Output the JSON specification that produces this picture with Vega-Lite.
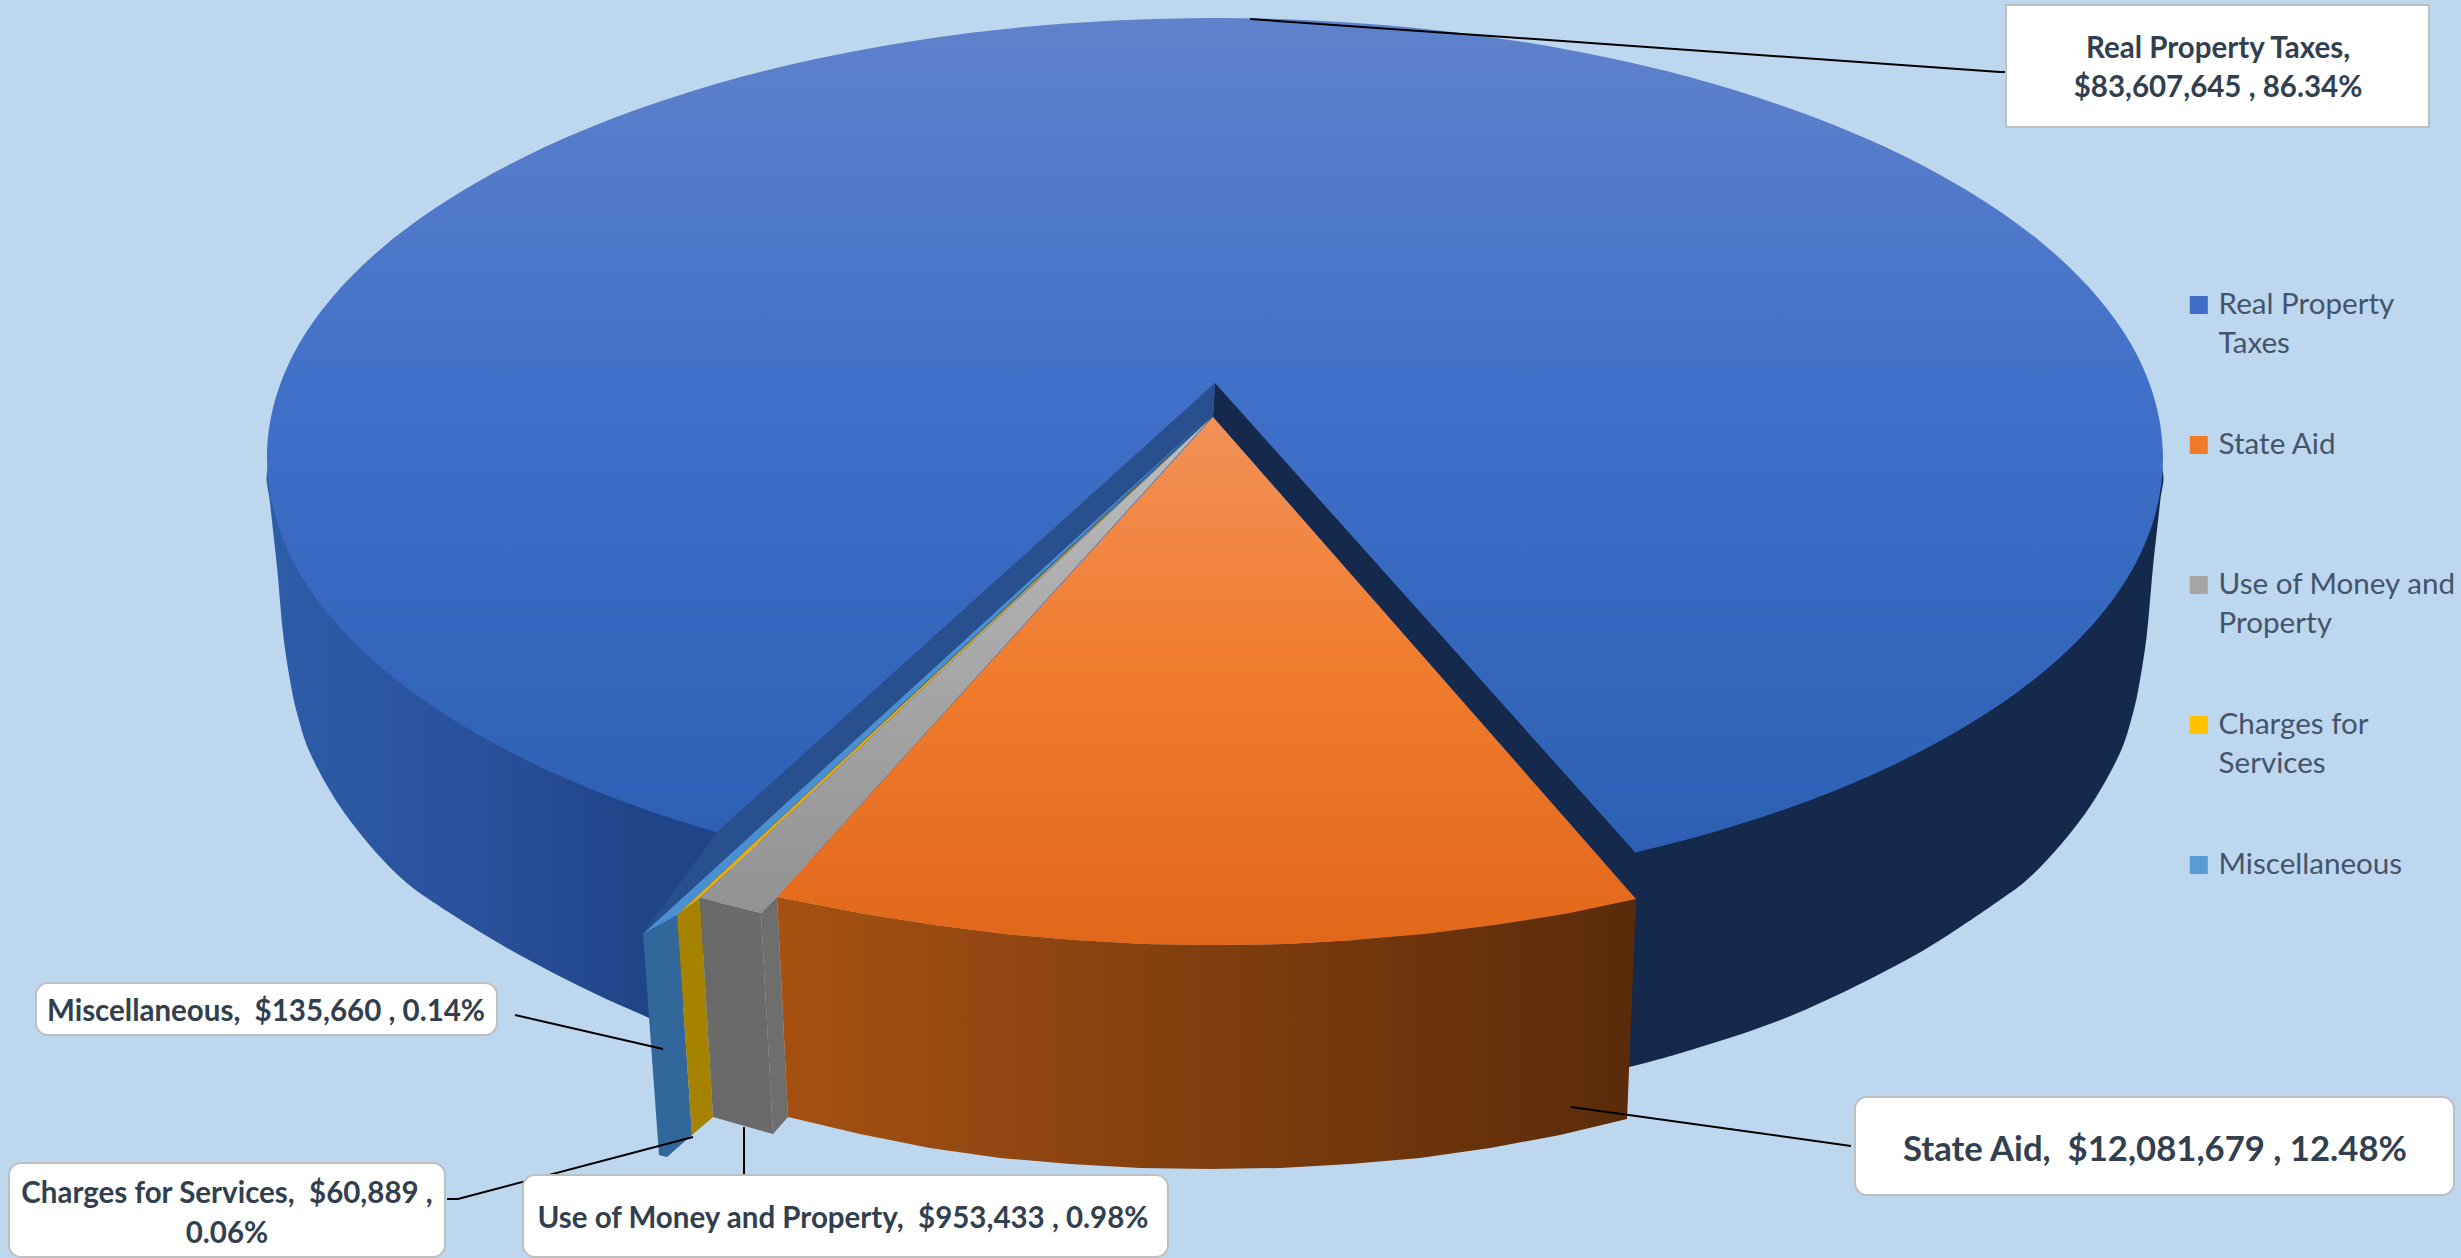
{
  "$schema": "https://vega.github.io/schema/vega-lite/v6.json",
  "width": 2461,
  "height": 1258,
  "padding": 0,
  "autosize": {"type": "fit", "contains": "padding"},
  "background": "#BDD7EE",
  "config": {"view": {"stroke": null}},
  "datasets": {
    "faces": [
      {"slice":"Real Property Taxes","face":"top","x":2163,"y":458},{"slice":"Real Property Taxes","face":"top","x":2131,"y":344},{"slice":"Real Property Taxes","face":"top","x":2036,"y":238},{"slice":"Real Property Taxes","face":"top","x":1885,"y":147},{"slice":"Real Property Taxes","face":"top","x":1689,"y":77},{"slice":"Real Property Taxes","face":"top","x":1460,"y":33},{"slice":"Real Property Taxes","face":"top","x":1215,"y":18},{"slice":"Real Property Taxes","face":"top","x":970,"y":33},{"slice":"Real Property Taxes","face":"top","x":741,"y":77},{"slice":"Real Property Taxes","face":"top","x":545,"y":147},{"slice":"Real Property Taxes","face":"top","x":394,"y":238},{"slice":"Real Property Taxes","face":"top","x":299,"y":344},{"slice":"Real Property Taxes","face":"top","x":267,"y":458},{"slice":"Real Property Taxes","face":"top","x":299,"y":572},{"slice":"Real Property Taxes","face":"top","x":394,"y":678},{"slice":"Real Property Taxes","face":"top","x":545,"y":769},{"slice":"Real Property Taxes","face":"top","x":741,"y":839},{"slice":"Real Property Taxes","face":"top","x":970,"y":883},{"slice":"Real Property Taxes","face":"top","x":1215,"y":898},{"slice":"Real Property Taxes","face":"top","x":1460,"y":883},{"slice":"Real Property Taxes","face":"top","x":1689,"y":839},{"slice":"Real Property Taxes","face":"top","x":1885,"y":769},{"slice":"Real Property Taxes","face":"top","x":2036,"y":678},{"slice":"Real Property Taxes","face":"top","x":2131,"y":572},

      {"slice":"State Aid","face":"top","x":1213,"y":417},{"slice":"State Aid","face":"top","x":1636,"y":899},{"slice":"State Aid","face":"top","x":1565,"y":914},{"slice":"State Aid","face":"top","x":1495,"y":925},{"slice":"State Aid","face":"top","x":1425,"y":934},{"slice":"State Aid","face":"top","x":1355,"y":940},{"slice":"State Aid","face":"top","x":1285,"y":944},{"slice":"State Aid","face":"top","x":1215,"y":945},{"slice":"State Aid","face":"top","x":1145,"y":944},{"slice":"State Aid","face":"top","x":1075,"y":940},{"slice":"State Aid","face":"top","x":1005,"y":934},{"slice":"State Aid","face":"top","x":935,"y":925},{"slice":"State Aid","face":"top","x":865,"y":914},{"slice":"State Aid","face":"top","x":777,"y":897},

      {"slice":"Use of Money and Property","face":"top","x":1211,"y":418},{"slice":"Use of Money and Property","face":"top","x":700,"y":898},{"slice":"Use of Money and Property","face":"top","x":761,"y":913},{"slice":"Use of Money and Property","face":"top","x":777,"y":897},
      {"slice":"Charges for Services","face":"top","x":1211,"y":417},{"slice":"Charges for Services","face":"top","x":677,"y":915},{"slice":"Charges for Services","face":"top","x":700,"y":898},
      {"slice":"Miscellaneous","face":"top","x":1210,"y":416},{"slice":"Miscellaneous","face":"top","x":643,"y":934},{"slice":"Miscellaneous","face":"top","x":677,"y":915},

      {"slice":"Real Property Taxes","face":"wall-right","x":2150,"y":445},{"slice":"Real Property Taxes","face":"wall-right","x":2163,"y":473},{"slice":"Real Property Taxes","face":"wall-right","x":2160,"y":503},{"slice":"Real Property Taxes","face":"wall-right","x":2153,"y":567},{"slice":"Real Property Taxes","face":"wall-right","x":2147,"y":633},{"slice":"Real Property Taxes","face":"wall-right","x":2140,"y":680},{"slice":"Real Property Taxes","face":"wall-right","x":2133,"y":713},{"slice":"Real Property Taxes","face":"wall-right","x":2120,"y":753},{"slice":"Real Property Taxes","face":"wall-right","x":2093,"y":802},{"slice":"Real Property Taxes","face":"wall-right","x":2063,"y":842},{"slice":"Real Property Taxes","face":"wall-right","x":2030,"y":877},{"slice":"Real Property Taxes","face":"wall-right","x":2000,"y":900},{"slice":"Real Property Taxes","face":"wall-right","x":1929,"y":947},{"slice":"Real Property Taxes","face":"wall-right","x":1860,"y":984},{"slice":"Real Property Taxes","face":"wall-right","x":1788,"y":1017},{"slice":"Real Property Taxes","face":"wall-right","x":1710,"y":1044},{"slice":"Real Property Taxes","face":"wall-right","x":1629,"y":1067},{"slice":"Real Property Taxes","face":"wall-right","x":1500,"y":1095},{"slice":"Real Property Taxes","face":"wall-right","x":1300,"y":800},{"slice":"Real Property Taxes","face":"wall-right","x":1500,"y":400},{"slice":"Real Property Taxes","face":"wall-right","x":2000,"y":330},{"slice":"Real Property Taxes","face":"wall-right","x":2090,"y":420},

      {"slice":"Real Property Taxes","face":"wall-left","x":280,"y":445},{"slice":"Real Property Taxes","face":"wall-left","x":267,"y":473},{"slice":"Real Property Taxes","face":"wall-left","x":270,"y":503},{"slice":"Real Property Taxes","face":"wall-left","x":277,"y":567},{"slice":"Real Property Taxes","face":"wall-left","x":283,"y":633},{"slice":"Real Property Taxes","face":"wall-left","x":290,"y":680},{"slice":"Real Property Taxes","face":"wall-left","x":297,"y":713},{"slice":"Real Property Taxes","face":"wall-left","x":310,"y":753},{"slice":"Real Property Taxes","face":"wall-left","x":337,"y":802},{"slice":"Real Property Taxes","face":"wall-left","x":367,"y":842},{"slice":"Real Property Taxes","face":"wall-left","x":400,"y":877},{"slice":"Real Property Taxes","face":"wall-left","x":430,"y":900},{"slice":"Real Property Taxes","face":"wall-left","x":490,"y":938},{"slice":"Real Property Taxes","face":"wall-left","x":542,"y":967},{"slice":"Real Property Taxes","face":"wall-left","x":600,"y":996},{"slice":"Real Property Taxes","face":"wall-left","x":649,"y":1018},{"slice":"Real Property Taxes","face":"wall-left","x":672,"y":1030},{"slice":"Real Property Taxes","face":"wall-left","x":720,"y":900},{"slice":"Real Property Taxes","face":"wall-left","x":760,"y":700},{"slice":"Real Property Taxes","face":"wall-left","x":600,"y":400},{"slice":"Real Property Taxes","face":"wall-left","x":340,"y":420},

      {"slice":"Real Property Taxes","face":"cut-right","x":1215,"y":383},{"slice":"Real Property Taxes","face":"cut-right","x":1634,"y":851},{"slice":"Real Property Taxes","face":"cut-right","x":1636,"y":899},{"slice":"Real Property Taxes","face":"cut-right","x":1213,"y":417},

      {"slice":"Real Property Taxes","face":"cut","x":1215,"y":383},{"slice":"Real Property Taxes","face":"cut","x":717,"y":832},{"slice":"Real Property Taxes","face":"cut","x":643,"y":934},{"slice":"Real Property Taxes","face":"cut","x":677,"y":915},{"slice":"Real Property Taxes","face":"cut","x":1213,"y":417},

      {"slice":"Miscellaneous","face":"side","x":643,"y":934},{"slice":"Miscellaneous","face":"side","x":677,"y":915},{"slice":"Miscellaneous","face":"side","x":692,"y":1135},{"slice":"Miscellaneous","face":"side","x":667,"y":1157},{"slice":"Miscellaneous","face":"side","x":659,"y":1155},
      {"slice":"Charges for Services","face":"side","x":677,"y":915},{"slice":"Charges for Services","face":"side","x":700,"y":898},{"slice":"Charges for Services","face":"side","x":713,"y":1117},{"slice":"Charges for Services","face":"side","x":692,"y":1135},
      {"slice":"Use of Money and Property","face":"side","x":700,"y":898},{"slice":"Use of Money and Property","face":"side","x":761,"y":913},{"slice":"Use of Money and Property","face":"side","x":773,"y":1134},{"slice":"Use of Money and Property","face":"side","x":713,"y":1117},
      {"slice":"Use of Money and Property","face":"cut","x":761,"y":913},{"slice":"Use of Money and Property","face":"cut","x":777,"y":897},{"slice":"Use of Money and Property","face":"cut","x":788,"y":1117},{"slice":"Use of Money and Property","face":"cut","x":773,"y":1134},

      {"slice":"State Aid","face":"side","x":777,"y":897},{"slice":"State Aid","face":"side","x":865,"y":914},{"slice":"State Aid","face":"side","x":935,"y":925},{"slice":"State Aid","face":"side","x":1005,"y":934},{"slice":"State Aid","face":"side","x":1075,"y":940},{"slice":"State Aid","face":"side","x":1145,"y":944},{"slice":"State Aid","face":"side","x":1215,"y":945},{"slice":"State Aid","face":"side","x":1285,"y":944},{"slice":"State Aid","face":"side","x":1355,"y":940},{"slice":"State Aid","face":"side","x":1425,"y":934},{"slice":"State Aid","face":"side","x":1495,"y":925},{"slice":"State Aid","face":"side","x":1565,"y":914},{"slice":"State Aid","face":"side","x":1636,"y":899},{"slice":"State Aid","face":"side","x":1627,"y":1119},{"slice":"State Aid","face":"side","x":1560,"y":1135},{"slice":"State Aid","face":"side","x":1490,"y":1148},{"slice":"State Aid","face":"side","x":1420,"y":1158},{"slice":"State Aid","face":"side","x":1350,"y":1164},{"slice":"State Aid","face":"side","x":1280,"y":1168},{"slice":"State Aid","face":"side","x":1210,"y":1169},{"slice":"State Aid","face":"side","x":1140,"y":1168},{"slice":"State Aid","face":"side","x":1070,"y":1164},{"slice":"State Aid","face":"side","x":1000,"y":1158},{"slice":"State Aid","face":"side","x":930,"y":1148},{"slice":"State Aid","face":"side","x":860,"y":1134},{"slice":"State Aid","face":"side","x":788,"y":1117}
    ],
    "leaders": [
      {"slice":"Real Property Taxes","x":1250,"y":19},{"slice":"Real Property Taxes","x":2000,"y":72},{"slice":"Real Property Taxes","x":2006,"y":72},
      {"slice":"State Aid","x":1571,"y":1107},{"slice":"State Aid","x":1851,"y":1146},
      {"slice":"Use of Money and Property","x":744,"y":1127},{"slice":"Use of Money and Property","x":744,"y":1175},
      {"slice":"Charges for Services","x":693,"y":1137},{"slice":"Charges for Services","x":458,"y":1199},{"slice":"Charges for Services","x":447,"y":1199},
      {"slice":"Miscellaneous","x":515,"y":1015},{"slice":"Miscellaneous","x":663,"y":1049}
    ],
    "callouts": [
      {"slice":"Real Property Taxes","x":2006,"x2":2429,"y":5,"y2":127},
      {"slice":"State Aid","x":1855,"x2":2454,"y":1097,"y2":1195},
      {"slice":"Use of Money and Property","x":523,"x2":1168,"y":1175,"y2":1257},
      {"slice":"Charges for Services","x":9,"x2":445,"y":1163,"y2":1257},
      {"slice":"Miscellaneous","x":36,"x2":497,"y":983,"y2":1035}
    ],
    "labels": [
      {"slice":"Real Property Taxes","value":83607645,"share":86.34,"text":"Real Property Taxes,","x":2218,"y":58},
      {"slice":"Real Property Taxes","value":83607645,"share":86.34,"text":"$83,607,645 , 86.34%","x":2218,"y":97},
      {"slice":"State Aid","value":12081679,"share":12.48,"text":"State Aid,\u00a0 $12,081,679 , 12.48%","x":2155,"y":1161},
      {"slice":"Use of Money and Property","value":953433,"share":0.98,"text":"Use of Money and Property,\u00a0 $953,433 , 0.98%","x":843,"y":1228},
      {"slice":"Charges for Services","value":60889,"share":0.06,"text":"Charges for Services,\u00a0 $60,889 ,","x":227,"y":1203},
      {"slice":"Charges for Services","value":60889,"share":0.06,"text":"0.06%","x":227,"y":1243},
      {"slice":"Miscellaneous","value":135660,"share":0.14,"text":"Miscellaneous,\u00a0 $135,660 , 0.14%","x":266,"y":1021}
    ]
  },
  "encoding": {
    "x": {"field": "x", "type": "quantitative", "scale": {"domain": [0, 2461]}, "axis": null},
    "y": {"field": "y", "type": "quantitative", "scale": {"domain": [1258, 0]}, "axis": null}
  },
  "layer": [
    {
      "data": {"name": "faces"},
      "transform": [{"filter": "datum.face == 'top'"}],
      "mark": {"type": "line", "interpolate": "linear-closed", "stroke": null},
      "encoding": {
        "order": {"value": null},
        "fill": {
          "field": "slice",
          "type": "nominal",
          "scale": {
            "domain": ["Real Property Taxes", "State Aid", "Use of Money and Property", "Charges for Services", "Miscellaneous"],
            "range": ["#3F6CC4", "#EF7A2A", "#A5A5A5", "#FFC000", "#5B9BD5"]
          },
          "legend": {
            "title": null,
            "orient": "none",
            "legendX": 2184,
            "legendY": 235,
            "padding": 0,
            "symbolType": "square",
            "symbolSize": 324,
            "symbolStrokeWidth": 0,
            "labelFont": "Lato",
            "labelFontSize": 29.6,
            "labelColor": "#44546A",
            "labelOffset": 5,
            "labelLimit": 300,
            "labelBaseline": "alphabetic",
            "clipHeight": 140,
            "rowPadding": 0,
            "labelExpr": "datum.label == 'Real Property Taxes' ? ['Real Property', 'Taxes'] : datum.label == 'Use of Money and Property' ? ['Use of Money and', 'Property'] : datum.label == 'Charges for Services' ? ['Charges for', 'Services'] : datum.label",
            "encoding": {"labels": {"dy": {"value": 9}, "lineHeight": {"value": 39}}}
          }
        }
      }
    },
    {
      "data": {"name": "faces"},
      "transform": [{"filter": "datum.face == 'wall-right'"}],
      "mark": {"type": "line", "interpolate": "cardinal-closed", "tension": 0, "stroke": null, "fill": "#15294D"},
      "encoding": {"order": {"value": null}}
    },
    {
      "data": {"name": "faces"},
      "transform": [{"filter": "datum.face == 'wall-left'"}],
      "mark": {"type": "line", "interpolate": "cardinal-closed", "tension": 0, "stroke": null, "fill": {"gradient": "linear", "x1": 0, "y1": 0, "x2": 1, "y2": 0, "stops": [{"offset": 0, "color": "#2E5DA9"}, {"offset": 0.43, "color": "#29509A"}, {"offset": 0.76, "color": "#1F4487"}, {"offset": 1, "color": "#1F4487"}]}},
      "encoding": {"order": {"value": null}}
    },
    {
      "data": {"name": "faces"},
      "transform": [{"filter": "datum.face == 'top' && datum.slice == 'Real Property Taxes'"}],
      "mark": {"type": "line", "interpolate": "cardinal-closed", "tension": 0, "stroke": null, "fill": {"gradient": "linear", "x1": 0, "y1": 0, "x2": 0, "y2": 1, "stops": [{"offset": 0, "color": "#5F82CC"}, {"offset": 0.45, "color": "#3F6FC8"}, {"offset": 1, "color": "#2B5EB1"}]}},
      "encoding": {"order": {"value": null}}
    },
    {
      "data": {"name": "faces"},
      "transform": [{"filter": "datum.face == 'cut-right'"}],
      "mark": {"type": "line", "interpolate": "linear-closed", "stroke": null, "fill": "#15294D"},
      "encoding": {"order": {"value": null}}
    },
    {
      "data": {"name": "faces"},
      "transform": [{"filter": "datum.face == 'cut' && datum.slice == 'Real Property Taxes'"}],
      "mark": {"type": "line", "interpolate": "linear-closed", "stroke": null, "fill": "#28508F"},
      "encoding": {"order": {"value": null}}
    },
    {
      "data": {"name": "faces"},
      "transform": [{"filter": "datum.face == 'side' && datum.slice == 'Miscellaneous'"}],
      "mark": {"type": "line", "interpolate": "linear-closed", "stroke": null, "fill": "#31679A"},
      "encoding": {"order": {"value": null}}
    },
    {
      "data": {"name": "faces"},
      "transform": [{"filter": "datum.face == 'side' && datum.slice == 'Charges for Services'"}],
      "mark": {"type": "line", "interpolate": "linear-closed", "stroke": null, "fill": "#A58300"},
      "encoding": {"order": {"value": null}}
    },
    {
      "data": {"name": "faces"},
      "transform": [{"filter": "datum.face == 'side' && datum.slice == 'Use of Money and Property'"}],
      "mark": {"type": "line", "interpolate": "linear-closed", "stroke": null, "fill": "#6A6A6A"},
      "encoding": {"order": {"value": null}}
    },
    {
      "data": {"name": "faces"},
      "transform": [{"filter": "datum.face == 'cut' && datum.slice == 'Use of Money and Property'"}],
      "mark": {"type": "line", "interpolate": "linear-closed", "stroke": null, "fill": "#6E6E6E"},
      "encoding": {"order": {"value": null}}
    },
    {
      "data": {"name": "faces"},
      "transform": [{"filter": "datum.face == 'top' && datum.slice == 'Miscellaneous'"}],
      "mark": {"type": "line", "interpolate": "linear-closed", "stroke": null, "fill": "#4A90D0"},
      "encoding": {"order": {"value": null}}
    },
    {
      "data": {"name": "faces"},
      "transform": [{"filter": "datum.face == 'top' && datum.slice == 'Charges for Services'"}],
      "mark": {"type": "line", "interpolate": "linear-closed", "stroke": null, "fill": "#E5AE0E"},
      "encoding": {"order": {"value": null}}
    },
    {
      "data": {"name": "faces"},
      "transform": [{"filter": "datum.face == 'top' && datum.slice == 'Use of Money and Property'"}],
      "mark": {"type": "line", "interpolate": "linear-closed", "stroke": null, "fill": {"gradient": "linear", "x1": 0, "y1": 0, "x2": 0, "y2": 1, "stops": [{"offset": 0, "color": "#BDBDBD"}, {"offset": 1, "color": "#929292"}]}},
      "encoding": {"order": {"value": null}}
    },
    {
      "data": {"name": "faces"},
      "transform": [{"filter": "datum.face == 'side' && datum.slice == 'State Aid'"}],
      "mark": {"type": "line", "interpolate": "linear-closed", "stroke": null, "fill": {"gradient": "linear", "x1": 0, "y1": 0, "x2": 1, "y2": 0, "stops": [{"offset": 0, "color": "#A65112"}, {"offset": 1, "color": "#5A2B0A"}]}},
      "encoding": {"order": {"value": null}}
    },
    {
      "data": {"name": "faces"},
      "transform": [{"filter": "datum.face == 'top' && datum.slice == 'State Aid'"}],
      "mark": {"type": "line", "interpolate": "linear-closed", "stroke": null, "fill": {"gradient": "linear", "x1": 0, "y1": 0, "x2": 0, "y2": 1, "stops": [{"offset": 0, "color": "#F29157"}, {"offset": 0.5, "color": "#F07B2C"}, {"offset": 1, "color": "#E2671A"}]}},
      "encoding": {"order": {"value": null}}
    },
    {
      "data": {"name": "leaders"},
      "mark": {"type": "line", "stroke": "#000000", "strokeWidth": 2},
      "encoding": {"order": {"value": null}, "detail": {"field": "slice"}}
    },
    {
      "data": {"name": "callouts"},
      "transform": [{"filter": "datum.slice == 'Real Property Taxes'"}],
      "mark": {"type": "rect", "fill": "#FFFFFF", "stroke": "#BFBFBF", "strokeWidth": 2},
      "encoding": {"x2": {"field": "x2"}, "y2": {"field": "y2"}}
    },
    {
      "data": {"name": "callouts"},
      "transform": [{"filter": "datum.slice != 'Real Property Taxes'"}],
      "mark": {"type": "rect", "fill": "#FFFFFF", "stroke": "#BFBFBF", "strokeWidth": 2, "cornerRadius": 12},
      "encoding": {"x2": {"field": "x2"}, "y2": {"field": "y2"}}
    },
    {
      "data": {"name": "labels"},
      "transform": [{"filter": "datum.slice != 'State Aid'"}],
      "mark": {"type": "text", "font": "Lato", "fontWeight": 700, "fontSize": 29.5, "fill": "#323F4F", "align": "center", "baseline": "alphabetic"},
      "encoding": {"text": {"field": "text"}}
    },
    {
      "data": {"name": "labels"},
      "transform": [{"filter": "datum.slice == 'State Aid'"}],
      "mark": {"type": "text", "font": "Lato", "fontWeight": 700, "fontSize": 34.7, "fill": "#323F4F", "align": "center", "baseline": "alphabetic"},
      "encoding": {"text": {"field": "text"}}
    }
  ]
}
